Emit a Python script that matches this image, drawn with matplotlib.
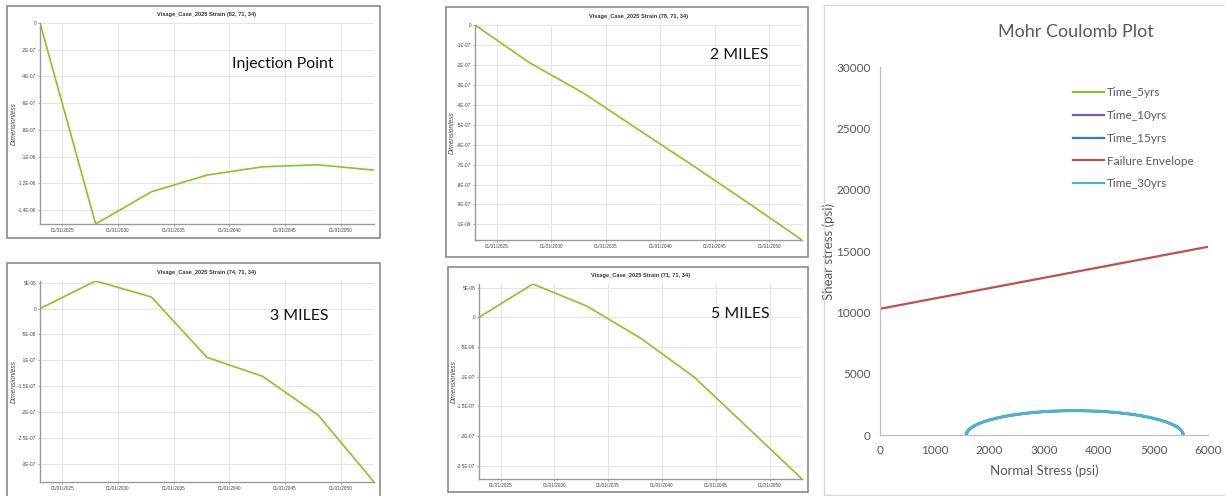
import numpy as np
import pandas as pd
import matplotlib
matplotlib.use("Agg")
import matplotlib.pyplot as plt
import matplotlib.dates as mdates
from matplotlib.patches import Rectangle
from matplotlib.ticker import MultipleLocator, FuncFormatter

plt.rcParams["font.family"] = ["Lato", "DejaVu Sans"]

# strain history at four grid cells (dimensionless)
dates = pd.to_datetime(["2023-01-01", "2028-01-01", "2033-01-01", "2038-01-01",
                        "2043-01-01", "2048-01-01", "2053-01-01"])
strain_inj = [0, -1.504e-6, -1.263e-6, -1.138e-6, -1.076e-6, -1.061e-6, -1.101e-6]
strain_2mi = [0, -1.89e-7, -3.43e-7, -5.25e-7, -7.05e-7, -8.9e-7, -1.078e-6]
strain_3mi = [0, 5.32e-8, 2.24e-8, -9.42e-8, -1.308e-7, -2.058e-7, -3.346e-7]
strain_5mi = [0, 5.63e-8, 1.91e-8, -3.49e-8, -1.008e-7, -1.865e-7, -2.725e-7]

cells = ["(82, 71, 34)", "(78, 71, 34)", "(74, 71, 34)", "(71, 71, 34)"]
labels = ["Injection Point", "2 MILES", "3 MILES", "5 MILES"]
ytick_steps = [2e-7, 1e-7, 5e-8, 5e-8]

# Mohr circles: principal stresses (psi)
times = ["Time_5yrs", "Time_10yrs", "Time_15yrs", "Time_30yrs"]
sigma3 = [1585, 1575, 1572, 1568]
sigma1 = [5530, 5538, 5541, 5543]
# failure envelope end points
env_sigma = [0, 6000]
env_tau = [10300, 15360]

W, H = 1225, 496
fig = plt.figure(figsize=(W / 100, H / 100), dpi=100)

ARIAL = ["Liberation Sans", "DejaVu Sans"]


def px_axes(left, top, right, bottom):
    return fig.add_axes([left / W, 1 - bottom / H, (right - left) / W, (bottom - top) / H])


def frame(left, top, right, bottom, color, lw=1.2):
    fig.patches.append(Rectangle((left / W, 1 - bottom / H), (right - left) / W,
                                 (bottom - top) / H, transform=fig.transFigure,
                                 fill=False, edgecolor=color, linewidth=lw))


def sci_label(v, pos):
    if abs(v) < 1e-12:
        return "0"
    s = f"{v:.1E}"
    mant, exp = s.split("E")
    if mant.endswith(".0"):
        mant = mant[:-2]
    return f"{mant}E{exp}"


strain_sets = [strain_inj, strain_2mi, strain_3mi, strain_5mi]
boxes = [(7, 6, 380, 238), (446, 7, 808, 257), (7, 263, 380, 500), (448, 267, 808, 492)]
plots = [(40, 23, 374, 224), (475, 25, 802, 240), (40, 281, 374, 482), (479, 284, 802, 479)]
ylabel_x = [15, 453, 15, 455]
label_pos = [(232, 64), (710, 55), (270, 316), (711, 314)]

for vals, cell, lab, step, box, area, yx, lp in zip(strain_sets, cells, labels,
                                                     ytick_steps, boxes, plots,
                                                     ylabel_x, label_pos):
    frame(*box, color="#8a8a8a")
    ax = px_axes(*area)
    ax.plot(dates, vals, color="#86c628", lw=1.2)
    ax.set_xlim(dates[0], dates[-1])
    ax.set_ylim(min(vals), max(vals))
    ax.xaxis.set_major_locator(mdates.YearLocator(5))
    ax.xaxis.set_major_formatter(mdates.DateFormatter("%m/%d/%Y"))
    ax.yaxis.set_major_locator(MultipleLocator(step))
    ax.yaxis.set_major_formatter(FuncFormatter(sci_label))
    ax.grid(True, color="#e4e4e4", lw=0.7)
    ax.set_axisbelow(True)
    for s in ("top", "right"):
        ax.spines[s].set_visible(False)
    for s in ("left", "bottom"):
        ax.spines[s].set_color("#9a9a9a")
        ax.spines[s].set_linewidth(1.0)
    ax.tick_params(labelsize=3.4, colors="#9a9a9a", labelcolor="#444444",
                   length=1.6, width=0.6, pad=1.2)
    for t in ax.get_xticklabels() + ax.get_yticklabels():
        t.set_family(ARIAL)
    ax.set_ylabel("Dimensionless", fontsize=4.8, style="italic", color="#444444",
                  family=ARIAL)
    ax.yaxis.set_label_coords((yx + 3 - area[0]) / (area[2] - area[0]), 0.5)
    ax.set_title(f"Visage_Case_2025 Strain {cell}", fontsize=4.1, fontweight="bold",
                 color="#333333", pad=5, family=ARIAL)
    fig.text(lp[0] / W, 1 - lp[1] / H, lab, fontsize=11.4, color="#111111",
             va="center", ha="left")

# Mohr Coulomb panel
frame(824, 5, 1240, 495, color="#d9d9d9", lw=1.0)
mx = px_axes(880.3, 67.3, 1208.3, 435)
circle_colors = ["#8bbf3f", "#7e5da8", "#3f76c1", "#4bb3d1"]
theta = np.linspace(0, np.pi, 300)
handles = {}
for name, s3, s1, c in zip(times, sigma3, sigma1, circle_colors):
    center, radius = (s1 + s3) / 2, (s1 - s3) / 2
    (h,) = mx.plot(center + radius * np.cos(theta), radius * np.sin(theta),
                   color=c, lw=2.2 if name == "Time_30yrs" else 1.6)
    handles[name] = h
(handles["Failure Envelope"],) = mx.plot(env_sigma, env_tau, color="#c0504d", lw=1.6)

order = ["Time_5yrs", "Time_10yrs", "Time_15yrs", "Failure Envelope", "Time_30yrs"]
leg = mx.legend([handles[k] for k in order], order, loc="upper left",
                bbox_to_anchor=(0.555, 0.975), frameon=False, fontsize=8.5,
                handlelength=2.6, handletextpad=0.3, labelspacing=1.0,
                labelcolor="#595959")
for line in leg.get_lines():
    line.set_linewidth(1.6)

mx.set_xlim(0, 6000)
mx.set_ylim(0, 30000)
mx.set_xticks(range(0, 6001, 1000))
mx.set_yticks(range(0, 30001, 5000))
for s in ("top", "right"):
    mx.spines[s].set_visible(False)
for s in ("left", "bottom"):
    mx.spines[s].set_color("#bfbfbf")
    mx.spines[s].set_linewidth(0.9)
mx.tick_params(length=0, labelsize=8.5, labelcolor="#595959", pad=7)
mx.set_xlabel("Normal Stress (psi)", fontsize=9.5, color="#595959", labelpad=6)
mx.set_ylabel("Shear stress (psi)", fontsize=9.5, color="#595959")
mx.yaxis.set_label_coords(-0.137, 0.5)
fig.text(1076 / W, 1 - 32 / H, "Mohr Coulomb Plot", fontsize=13, color="#595959",
         ha="center", va="center")

fig.savefig("out.png", dpi=100)
